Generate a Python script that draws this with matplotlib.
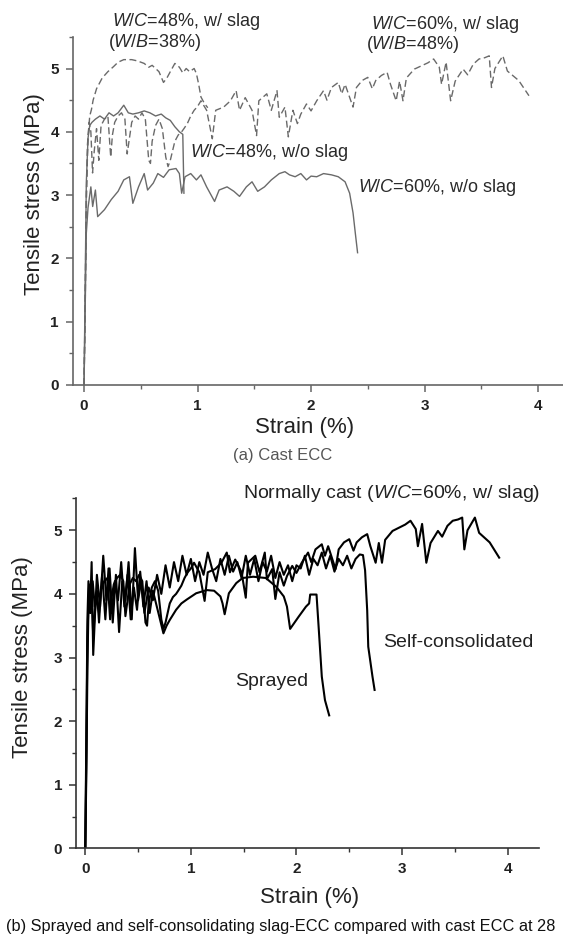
import matplotlib
matplotlib.use("Agg")
import matplotlib.pyplot as plt
from matplotlib.ticker import MultipleLocator
from matplotlib import font_manager

plt.rcParams['font.family'] = ['Liberation Sans', 'DejaVu Sans']
plt.rcParams['mathtext.fontset'] = 'custom'
plt.rcParams['mathtext.rm'] = 'Liberation Sans'
plt.rcParams['mathtext.it'] = 'Liberation Sans:italic'

# ---------------- data (strain %, tensile stress MPa) ----------------
# (a) W/C=48%, w/ slag
a48s_strain = [0, 0.01, 0.02, 0.035, 0.05, 0.065, 0.08, 0.11, 0.16, 0.21, 0.26, 0.30, 0.35,
               0.42, 0.47, 0.53, 0.57, 0.60, 0.63, 0.66, 0.70, 0.73, 0.76, 0.80, 0.84,
               0.87, 0.90, 0.93, 0.97, 0.99, 1.01, 1.03, 1.06, 1.09]
a48s_stress = [0, 1.4, 3.0, 3.9, 4.25, 4.35, 4.5, 4.68, 4.85, 4.95, 5.03, 5.1, 5.14,
               5.14, 5.12, 5.08, 5.02, 5.05, 5.0, 4.95, 4.78, 4.85, 4.95, 5.08, 5.02,
               4.93, 5.0, 4.95, 5.0, 4.92, 4.75, 4.55, 4.45, 4.38]

# (a) W/C=60%, w/ slag  (same specimen as "Normally cast" in (b))
a60s_strain = [0, 0.01, 0.02, 0.03, 0.045, 0.06, 0.075, 0.09, 0.11, 0.13, 0.15, 0.18,
               0.21, 0.235, 0.25, 0.27, 0.30, 0.33, 0.36, 0.38, 0.40, 0.42, 0.45, 0.48,
               0.51, 0.54, 0.57, 0.585, 0.60, 0.63, 0.66, 0.69, 0.72, 0.74, 0.76, 0.78,
               0.80, 0.83, 0.86, 0.88, 0.91, 0.94, 0.97, 1.0, 1.03, 1.08, 1.13, 1.16,
               1.23, 1.29, 1.34, 1.37, 1.42, 1.48, 1.52, 1.54, 1.61, 1.65, 1.70, 1.72,
               1.77, 1.80, 1.84, 1.88, 1.91, 1.96, 2.00, 2.05, 2.11, 2.14, 2.18, 2.24,
               2.27, 2.30, 2.37, 2.40, 2.45, 2.50, 2.54, 2.57, 2.62, 2.67, 2.70, 2.75,
               2.78, 2.81, 2.84, 2.91, 2.97, 3.03, 3.08, 3.13, 3.15, 3.19, 3.23, 3.27,
               3.34, 3.38, 3.43, 3.48, 3.53, 3.57, 3.59, 3.62, 3.69, 3.73, 3.83, 3.92]
a60s_stress = [0, 1.2, 2.8, 3.8, 4.15, 4.0, 3.35, 3.7, 4.05, 3.55, 4.1, 4.2,
               4.25, 3.6, 3.95, 4.15, 4.25, 4.3, 4.2, 3.65, 3.9, 4.15, 4.25, 4.2,
               4.3, 4.2, 3.55, 3.5, 3.85, 4.1, 4.2, 4.05, 3.6, 3.45, 3.55, 3.7,
               3.85, 3.95, 4.0, 4.05, 4.13, 4.25, 4.34, 4.4, 4.49, 4.34, 3.89, 4.34,
               4.39, 4.49, 4.65, 4.34, 4.54, 4.34, 3.94, 4.49, 4.6, 4.34, 4.65, 4.23,
               4.39, 3.92, 4.34, 4.13, 4.28, 4.44, 4.33, 4.49, 4.65, 4.5, 4.7, 4.78,
               4.6, 4.75, 4.39, 4.7, 4.81, 4.86, 4.68, 4.81, 4.89, 4.94, 4.75, 4.49,
               4.8, 4.49, 4.85, 4.99, 5.04, 5.09, 5.15, 5.02, 4.75, 5.1, 4.49, 4.8,
               4.99, 4.9, 5.07, 5.15, 5.17, 5.2, 4.7, 5.0, 5.2, 4.96, 4.81, 4.57]

# (a) W/C=48%, w/o slag
a48_strain = [0, 0.01, 0.02, 0.035, 0.05, 0.07, 0.1, 0.14, 0.18, 0.22, 0.26, 0.30,
              0.35, 0.39, 0.43, 0.48, 0.53, 0.58, 0.63, 0.68, 0.72, 0.76, 0.80, 0.84,
              0.87, 0.875, 0.88]
a48_stress = [0, 1.6, 3.2, 3.9, 4.1, 4.15, 4.2, 4.25, 4.2, 4.3, 4.25, 4.3,
              4.42, 4.3, 4.28, 4.3, 4.33, 4.3, 4.25, 4.28, 4.22, 4.18, 4.08, 4.0,
              3.96, 3.5, 3.03]

# (a) W/C=60%, w/o slag
a60_strain = [0, 0.01, 0.02, 0.035, 0.06, 0.076, 0.10, 0.12, 0.18, 0.24, 0.30, 0.35,
              0.40, 0.43, 0.48, 0.53, 0.56, 0.61, 0.65, 0.70, 0.75, 0.81, 0.84, 0.86,
              0.89, 0.94, 0.99, 1.03, 1.08, 1.15, 1.19, 1.26, 1.32, 1.37, 1.43, 1.48,
              1.53, 1.59, 1.65, 1.72, 1.77, 1.81, 1.86, 1.91, 1.96, 2.00, 2.05, 2.11,
              2.18, 2.24, 2.30, 2.34, 2.37, 2.39, 2.41]
a60_stress = [0, 1.2, 2.4, 2.8, 3.13, 2.82, 3.08, 2.66, 2.77, 2.93, 3.06, 3.24,
              3.29, 2.87, 3.13, 3.34, 3.08, 3.19, 3.34, 3.28, 3.40, 3.42, 3.34, 3.03,
              3.29, 3.34, 3.24, 3.32, 3.13, 2.90, 3.08, 3.13, 3.06, 2.98, 3.13, 3.21,
              3.06, 3.13, 3.24, 3.34, 3.37, 3.32, 3.29, 3.34, 3.24, 3.30, 3.29, 3.34,
              3.32, 3.29, 3.21, 3.03, 2.72, 2.40, 2.09]

# (b) Sprayed
spr_strain = [0, 0.01, 0.02, 0.035, 0.05, 0.07, 0.09, 0.11, 0.13, 0.16, 0.19, 0.22,
              0.25, 0.28, 0.31, 0.34, 0.37, 0.40, 0.43, 0.46, 0.49, 0.52, 0.55, 0.58,
              0.61, 0.64, 0.67, 0.70, 0.74, 0.77, 0.80, 0.86, 0.91, 0.96, 1.05, 1.15,
              1.22, 1.28, 1.30, 1.32, 1.36, 1.43, 1.49, 1.59, 1.71, 1.81, 1.88, 1.91,
              1.94, 2.02, 2.09, 2.12, 2.13, 2.19, 2.21, 2.24, 2.27, 2.31]
spr_stress = [0, 1.5, 3.3, 4.1, 3.7, 4.2, 3.8, 3.95, 3.7, 4.3, 3.6, 4.4,
              3.7, 4.2, 3.9, 4.5, 3.8, 4.3, 3.6, 4.1, 3.75, 4.35, 3.8, 4.2,
              3.7, 4.05, 3.85, 3.65, 3.38, 3.5, 3.59, 3.75, 3.85, 3.91, 4.01, 4.06,
              4.05, 3.96, 3.85, 3.68, 4.01, 4.17, 4.25, 4.27, 4.25, 4.11, 3.96, 3.8,
              3.45, 3.64, 3.80, 3.85, 3.99, 3.99, 3.48, 2.70, 2.33, 2.09]

# (b) Self-consolidated
sc_strain = [0, 0.01, 0.02, 0.03, 0.045, 0.06, 0.075, 0.09, 0.11, 0.14, 0.17, 0.20,
             0.23, 0.26, 0.29, 0.32, 0.35, 0.38, 0.41, 0.44, 0.47, 0.50, 0.53, 0.56,
             0.60, 0.64, 0.68, 0.72, 0.76, 0.80, 0.84, 0.88, 0.92, 0.96, 1.00, 1.04,
             1.08, 1.12, 1.16, 1.20, 1.24, 1.28, 1.32, 1.36, 1.40, 1.44, 1.48, 1.52,
             1.56, 1.60, 1.64, 1.68, 1.72, 1.76, 1.80, 1.84, 1.88, 1.92, 1.96, 2.00,
             2.04, 2.08, 2.12, 2.16, 2.20, 2.24, 2.28, 2.32, 2.36, 2.40, 2.44, 2.48,
             2.52, 2.56, 2.60, 2.63, 2.65, 2.67, 2.68, 2.72, 2.74]
sc_stress = [0, 1.8, 3.6, 4.2, 3.7, 4.5, 3.04, 3.6, 4.3, 3.8, 4.6, 3.9,
             4.4, 3.55, 4.3, 3.40, 4.2, 3.9, 4.5, 3.6, 4.72, 3.9, 4.2, 3.7,
             4.1, 3.9, 4.3, 4.0, 4.45, 4.1, 4.5, 4.2, 4.6, 4.3, 4.55, 4.2,
             4.5, 4.3, 4.65, 4.4, 4.2, 4.55, 4.3, 4.6, 4.35, 4.5, 4.25, 4.6,
             4.3, 4.55, 4.2, 4.5, 4.35, 4.6, 4.25, 4.5, 4.3, 4.45, 4.2, 4.45,
             4.4, 4.6, 4.3, 4.55, 4.45, 4.65, 4.4, 4.6, 4.35, 4.55, 4.45, 4.6,
             4.4, 4.55, 4.62, 4.61, 4.37, 3.74, 3.17, 2.70, 2.49]

# (b) Normally cast = (a) W/C=60%, w/ slag
nc_strain = a60s_strain
nc_stress = a60s_stress

xticks = [0, 1, 2, 3, 4]
yticks = [0, 1, 2, 3, 4, 5]

# ---------------- figure ----------------
W, H = 563, 939
fig = plt.figure(figsize=(W / 100, H / 100), dpi=100)

def fx(px):
    return px / W

def fy(py):
    return 1 - py / H

def style_axes(ax, spine_color, xlim):
    ax.set_xlim(*xlim)
    ax.set_ylim(0, 5.5)
    for s in ['top', 'right']:
        ax.spines[s].set_visible(False)
    for s in ['left', 'bottom']:
        ax.spines[s].set_color(spine_color)
        ax.spines[s].set_linewidth(1.2)
    ax.set_xticks(xticks)
    ax.set_yticks(yticks)
    ax.xaxis.set_minor_locator(MultipleLocator(0.5))
    ax.yaxis.set_minor_locator(MultipleLocator(0.5))
    ax.tick_params(which='major', direction='out', length=5, width=1.1, color=spine_color,
                   labelsize=11, pad=5)
    ax.tick_params(which='minor', direction='out', length=3, width=1.0, color=spine_color)
    for lab in ax.get_xticklabels() + ax.get_yticklabels():
        lab.set_fontweight('bold')
        lab.set_color('#222222')

# ---- (a) ----
ax1 = fig.add_axes([fx(72.7), fy(385), fx(W - 72.7), 5.5 * 63.3 / H])
style_axes(ax1, '#666666', (-0.1, 4.22))
grey = '#6a6a6a'
ax1.plot(a48s_strain, a48s_stress, color=grey, lw=1.0, ls=(0, (5, 2.5)))
ax1.plot(a60s_strain, a60s_stress, color=grey, lw=1.0, ls=(0, (5, 2.5)))
ax1.plot(a48_strain, a48_stress, color=grey, lw=1.0)
ax1.plot(a60_strain, a60_stress, color=grey, lw=1.0)

tc = '#2a2a2a'
ax1.text(0.90, 5.74, r'$\mathit{W/C}$=48%, w/ slag', ha='center', va='center', fontsize=13, color=tc, clip_on=False)
ax1.text(0.62, 5.41, r'($\mathit{W/B}$=38%)', ha='center', va='center', fontsize=13, color=tc, clip_on=False)
ax1.text(3.18, 5.70, r'$\mathit{W/C}$=60%, w/ slag', ha='center', va='center', fontsize=13, color=tc, clip_on=False)
ax1.text(2.90, 5.38, r'($\mathit{W/B}$=48%)', ha='center', va='center', fontsize=13, color=tc, clip_on=False)
ax1.text(0.93, 3.67, r'$\mathit{W/C}$=48%, w/o slag', ha='left', va='center', fontsize=13, color=tc)
ax1.text(2.41, 3.12, r'$\mathit{W/C}$=60%, w/o slag', ha='left', va='center', fontsize=13, color=tc)

fig.text(fx(35), fy(194), 'Tensile stress (MPa)', rotation=90, ha='center', va='center',
         fontsize=16, color='#222222')
fig.text(fx(305), fy(428), 'Strain (%)', ha='center', va='center', fontsize=16, color='#222222')
fig.text(fx(283), fy(455), '(a) Cast ECC', ha='center', va='center', fontsize=12, color='#555555')

# ---- (b) ----
ax2 = fig.add_axes([fx(76), fy(848.3), fx(539.3 - 76), 5.5 * 63.6 / H])
style_axes(ax2, '#333333', (-0.088, 4.30))
ax2.plot(spr_strain, spr_stress, color='black', lw=1.5)
ax2.plot(sc_strain, sc_stress, color='black', lw=1.5)
ax2.plot(nc_strain, nc_stress, color='black', lw=1.5)

ax2.text(2.90, 5.58, r'Normally cast ($\mathit{W/C}$=60%, w/ slag)', ha='center', va='center',
         fontsize=14, color='#222222', clip_on=False)
ax2.text(2.82, 3.23, 'Self-consolidated', ha='left', va='center', fontsize=14, color='#222222')
ax2.text(1.42, 2.62, 'Sprayed', ha='left', va='center', fontsize=14, color='#222222')

fig.text(fx(23), fy(657), 'Tensile stress (MPa)', rotation=90, ha='center', va='center',
         fontsize=16, color='#222222')
fig.text(fx(310), fy(898), 'Strain (%)', ha='center', va='center', fontsize=16, color='#222222')

# caption (b): condensed face if installed, otherwise shrink to fit the width
names = {f.name for f in font_manager.fontManager.ttflist}
cap_family = 'Liberation Sans Narrow' if 'Liberation Sans Narrow' in names else 'Liberation Sans'
cap = fig.text(fx(6), fy(926),
               '(b) Sprayed and self-consolidating slag-ECC compared with cast ECC at 28',
               ha='left', va='center', fontsize=13.5, color='#111111', family=cap_family)
renderer = fig.canvas.get_renderer()
bb = cap.get_window_extent(renderer)
avail = W - 6 - 10
if bb.width > avail:
    cap.set_fontsize(13.5 * avail / bb.width)

fig.savefig('out.png', dpi=100)
